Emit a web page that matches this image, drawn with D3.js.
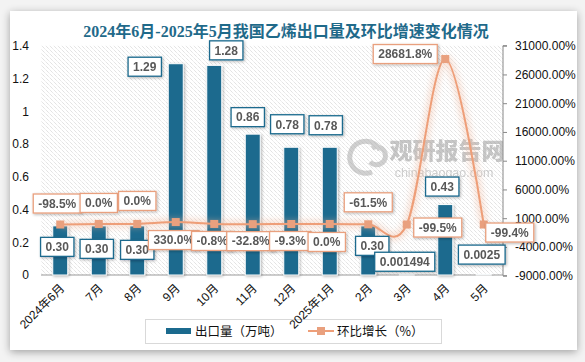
<!DOCTYPE html>
<meta charset="utf-8">
<head>
<style>
  body { margin: 0; background: #f3f3f3; }
  svg { display: block; }
  .tick-l, .tick-r, .xlab { font-family: "Liberation Sans", "Noto Sans CJK SC", sans-serif; font-size: 12px; fill: #111; }
  .dlab { font-family: "Liberation Sans", sans-serif; font-size: 12px; font-weight: bold; fill: #595959; }
  .title { font-family: "Liberation Serif", "Noto Sans CJK SC", serif; font-size: 16px; font-weight: bold; fill: #1f6a8a; }
  .legend text { font-family: "Noto Sans CJK SC", sans-serif; font-size: 12.5px; fill: #111; }
</style>
<script src="https://d3js.org/d3.v7.min.js"></script>
</head>
<body>
<svg width="585" height="362"></svg>
<script>
// data
var months = ["2024年6月", "7月", "8月", "9月", "10月", "11月", "12月", "2025年1月", "2月", "3月", "4月", "5月"];
var exportVol = [0.30, 0.30, 0.30, 1.29, 1.28, 0.86, 0.78, 0.78, 0.30, 0.001494, 0.43, 0.0025];
var volLabels = ["0.30", "0.30", "0.30", "1.29", "1.28", "0.86", "0.78", "0.78", "0.30", "0.001494", "0.43", "0.0025"];
var momGrowth = [-98.5, 0.0, 0.0, 330.0, -0.8, -32.8, -9.3, 0.0, -61.5, -99.5, 28681.8, -99.4];
var leftTicks = [0, 0.2, 0.4, 0.6, 0.8, 1, 1.2, 1.4];
var rightTicks = [-9000, -4000, 1000, 6000, 11000, 16000, 21000, 26000, 31000];

// label placement (offsets from the mark, as placed in the original)
var barLabelOff = [[-3,21],[-2,23],[0,24],[-31,3],[12,-15],[-5,-17],[-4,-23],[-4,-22],[4,20],[-2,-13],[-3,-18],[-2,-20]];
var lineLabelOff = [[-3,-21],[0,-21],[0,-23],[-2,18],[-2,17],[-2,17],[-1,17],[-3,18],[0,-22],[31,3],[-40,-5],[26,8]];

function fmt(spec) {
    var f = d3.format(spec);
    return function (v) { return f(v).replace("\u2212", "-"); };
}

var svg = d3.select("svg");
var defs = svg.append("defs");

var shadow = defs.append("filter").attr("id", "cardShadow").attr("x", "-5%").attr("y", "-5%").attr("width", "110%").attr("height", "110%");
shadow.append("feGaussianBlur").attr("in", "SourceAlpha").attr("stdDeviation", 4);
shadow.append("feOffset").attr("dx", 0).attr("dy", 2).attr("result", "b");
shadow.append("feComponentTransfer").append("feFuncA").attr("type", "linear").attr("slope", 0.35);
var m1 = shadow.append("feMerge"); m1.append("feMergeNode"); m1.append("feMergeNode").attr("in", "SourceGraphic");

var sm = defs.append("filter").attr("id", "smallShadow").attr("x", "-30%").attr("y", "-30%").attr("width", "160%").attr("height", "160%");
sm.append("feGaussianBlur").attr("in", "SourceAlpha").attr("stdDeviation", 1.5);
sm.append("feOffset").attr("dx", 1).attr("dy", 1);
sm.append("feComponentTransfer").append("feFuncA").attr("type", "linear").attr("slope", 0.3);
var m2 = sm.append("feMerge"); m2.append("feMergeNode"); m2.append("feMergeNode").attr("in", "SourceGraphic");

var glow = defs.append("filter").attr("id", "glow").attr("x", "-10%").attr("y", "-10%").attr("width", "120%").attr("height", "120%");
glow.append("feGaussianBlur").attr("stdDeviation", 3);

var pat = defs.append("pattern").attr("id", "hatch").attr("patternUnits", "userSpaceOnUse")
    .attr("width", 4).attr("height", 4);
pat.append("path").attr("d", "M-1,-1L5,5M-1,3L1,5M3,-1L5,1")
    .attr("stroke", "#cfcfcf").attr("stroke-width", 0.8).attr("stroke-dasharray", "1.2,0.8");

// card
svg.append("rect").attr("x", 10).attr("y", 11).attr("width", 567).attr("height", 339)
    .attr("fill", "#fff").attr("filter", "url(#cardShadow)");

svg.append("text").attr("class", "title").attr("x", 286).attr("y", 37).attr("text-anchor", "middle")
    .text("2024年6月-2025年5月我国乙烯出口量及环比增速变化情况");

var plot = {left: 41, right: 503, top: 45.7, bottom: 275};

var x = d3.scaleBand().domain(months).range([plot.left, plot.right]);
var yL = d3.scaleLinear().domain([0, 1.4]).range([plot.bottom, plot.top]);
var yR = d3.scaleLinear().domain([-9000, 31000]).range([plot.bottom + 0.7, plot.top]);

svg.append("rect").attr("x", plot.left).attr("y", plot.top)
    .attr("width", plot.right - plot.left).attr("height", plot.bottom - plot.top)
    .attr("fill", "url(#hatch)");

// watermark
var wm = svg.append("g").attr("opacity", 0.55);
wm.append("text").attr("x", 447).attr("y", 159).attr("text-anchor", "middle")
    .style("font-family", "Noto Sans CJK SC").style("font-weight", "900").style("font-size", "23px")
    .attr("fill", "#9a9a9a").text("观研报告网");
wm.append("text").attr("x", 444).attr("y", 177).attr("text-anchor", "middle")
    .style("font-family", "Liberation Sans").style("font-size", "12.5px")
    .attr("fill", "#aaa").text("chinabaogao.com");
wm.append("path").attr("d", "M380,150a16,16 0 1,0 -8,22M372,148a9,9 0 1,1 -2,14")
    .attr("fill", "none").attr("stroke", "#aaa").attr("stroke-width", 5);

// left axis
svg.append("g").attr("transform", "translate(" + (plot.left - 12) + ",0)")
    .call(d3.axisLeft(yL).tickValues(leftTicks).tickSize(0).tickPadding(0).tickFormat(d3.format("~g")))
    .call(function (g) { g.select(".domain").remove(); })
    .selectAll("text").attr("class", "tick-l");

// right axis
var pct2 = fmt(".2f");
var ra = svg.append("g").attr("transform", "translate(" + plot.right + ",0)")
    .call(d3.axisRight(yR).tickValues(rightTicks).tickSize(4).tickPadding(8)
        .tickFormat(function (d) { return pct2(d) + "%"; }));
ra.select(".domain").attr("stroke", "#888").attr("d", "M4," + yR.range()[1] + "H0V" + yR.range()[0] + "H4");
ra.selectAll("line").attr("stroke", "#888");
ra.selectAll("text").attr("class", "tick-r");

// legend
var lg = svg.append("g").attr("class", "legend");
lg.append("rect").attr("x", 145.5).attr("y", 319.5).attr("width", 296).attr("height", 24)
    .attr("fill", "#fff").attr("stroke", "#d9d9d9");
lg.append("rect").attr("x", 166).attr("y", 328).attr("width", 25).attr("height", 6).attr("fill", "#1b6a8e");
lg.append("text").attr("x", 195).attr("y", 336).text("出口量（万吨）");
lg.append("line").attr("x1", 308).attr("x2", 334).attr("y1", 331).attr("y2", 331)
    .attr("stroke", "#ee9e78").attr("stroke-width", 2);
lg.append("rect").attr("x", 317).attr("y", 327).attr("width", 8).attr("height", 8).attr("fill", "#e9a07e");
lg.append("text").attr("x", 337).attr("y", 336).text("环比增长（%）");

// x axis
svg.append("line").attr("x1", plot.left).attr("x2", plot.right).attr("y1", plot.bottom).attr("y2", plot.bottom)
    .attr("stroke", "#999");
svg.append("g").selectAll("text").data(months).join("text")
    .attr("class", "xlab").attr("text-anchor", "end")
    .attr("transform", function (d) { return "translate(" + (x(d) + x.bandwidth() / 2 + 2) + "," + 286 + ") rotate(-45)"; })
    .attr("dy", "0.35em")
    .text(function (d) { return d; });

// bars
var bw = 15;
svg.append("g").selectAll("rect").data(exportVol).join("rect")
    .attr("x", function (d, i) { return x(months[i]) + x.bandwidth() / 2 - bw / 2; })
    .attr("y", function (d) { return yL(d); })
    .attr("width", bw)
    .attr("height", function (d) { return plot.bottom - yL(d); })
    .attr("fill", "#1b6a8e").attr("stroke", "#fff").attr("stroke-width", 1)
    .attr("filter", "url(#smallShadow)");

// line
var line = d3.line()
    .x(function (d, i) { return x(months[i]) + x.bandwidth() / 2; })
    .y(function (d) { return yR(d); })
    .curve(d3.curveCardinal.tension(0));
svg.append("path").datum(momGrowth).attr("d", line).attr("fill", "none")
    .attr("stroke", "#f2b79b").attr("stroke-width", 7).attr("opacity", 0.45).attr("filter", "url(#glow)");
svg.append("path").datum(momGrowth).attr("d", line).attr("fill", "none")
    .attr("stroke", "#ee9e78").attr("stroke-width", 2);
svg.append("g").selectAll("rect").data(momGrowth).join("rect")
    .attr("x", function (d, i) { return x(months[i]) + x.bandwidth() / 2 - 4; })
    .attr("y", function (d) { return yR(d) - 4; })
    .attr("width", 8).attr("height", 8).attr("fill", "#e9a07e");

// data labels
function drawLabels(texts, px, py, off, color) {
    var g = svg.append("g");
    texts.forEach(function (t, i) {
        var cx = px(i) + off[i][0], cy = py(i) + off[i][1];
        var lg = g.append("g").attr("filter", "url(#smallShadow)");
        var r = lg.append("rect").attr("fill", "#fff").attr("stroke", color).attr("stroke-width", 1.3);
        var tx = lg.append("text").attr("class", "dlab").attr("x", cx).attr("y", cy)
            .attr("text-anchor", "middle").attr("dy", "0.36em").text(t);
        var w = tx.node().getComputedTextLength() + 10;
        r.attr("x", cx - w / 2).attr("y", cy - 9.5).attr("width", w).attr("height", 19);
    });
}
var pct1 = fmt(".1f");
drawLabels(volLabels,
    function (i) { return x(months[i]) + x.bandwidth() / 2; },
    function (i) { return yL(exportVol[i]); }, barLabelOff, "#1b6a8e");
drawLabels(momGrowth.map(function (v) { return pct1(v) + "%"; }),
    function (i) { return x(months[i]) + x.bandwidth() / 2; },
    function (i) { return yR(momGrowth[i]); }, lineLabelOff, "#e9a07e");
</script>
</body>
